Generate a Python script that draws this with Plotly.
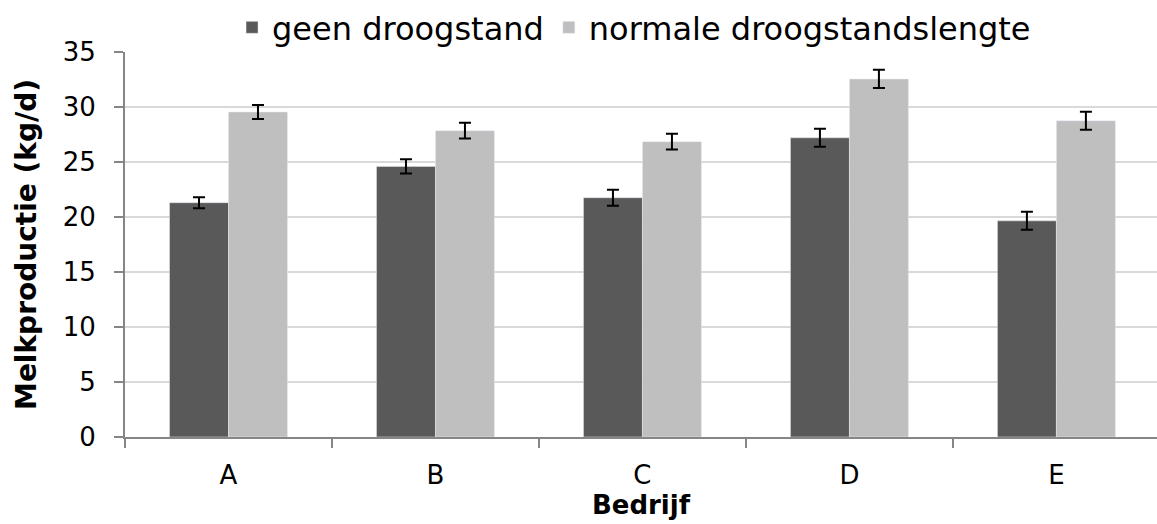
import plotly.graph_objects as go

categories = ["A", "B", "C", "D", "E"]
geen = [21.3, 24.6, 21.75, 27.2, 19.65]
geen_err = [0.5, 0.65, 0.73, 0.82, 0.82]
normaal = [29.55, 27.85, 26.85, 32.55, 28.75]
normaal_err = [0.63, 0.72, 0.72, 0.83, 0.82]
y_ticks = [0, 5, 10, 15, 20, 25, 30, 35]

fig = go.Figure()
fig.add_trace(go.Bar(
    x=categories, y=geen, name="geen droogstand",
    marker=dict(color="#595959"),
    error_y=dict(type="data", array=geen_err, color="black", thickness=2, width=6),
))
fig.add_trace(go.Bar(
    x=categories, y=normaal, name="normale droogstandslengte",
    marker=dict(color="#bfbfbf"),
    error_y=dict(type="data", array=normaal_err, color="black", thickness=2, width=6),
))

fig.update_layout(
    width=1157, height=524,
    margin=dict(l=125, r=0, t=52, b=87, autoexpand=False),
    plot_bgcolor="white", paper_bgcolor="white",
    barmode="group", bargap=0.43, bargroupgap=0,
    font=dict(family="DejaVu Sans", color="black", size=26),
    legend=dict(orientation="h", x=0.548, xanchor="center", xref="container",
                y=1.0, yanchor="top", yref="container",
                font=dict(size=32), itemwidth=30, tracegroupgap=0),
    showlegend=True,
)
fig.update_xaxes(
    range=[-0.5, 4.486], showline=True, linecolor="#868686", linewidth=2,
    tickson="boundaries", ticks="outside", ticklen=9, tickcolor="#868686", tickwidth=1.5,
    tickfont=dict(size=26), ticklabelstandoff=14,
    title=dict(text="<b>Bedrijf</b>", font=dict(size=26), standoff=3),
)
fig.update_yaxes(
    range=[0, 35], tickvals=y_ticks, showline=True, linecolor="#868686", linewidth=2,
    ticks="outside", ticklen=9, tickcolor="#868686", tickwidth=1.5,
    showgrid=True, gridcolor="#d9d9d9", gridwidth=2, zeroline=False,
    tickfont=dict(size=26), ticklabelstandoff=13,
    title=dict(text="<b>Melkproductie (kg/d)</b>", font=dict(size=28), standoff=18),
)

fig.write_html("out.html")
